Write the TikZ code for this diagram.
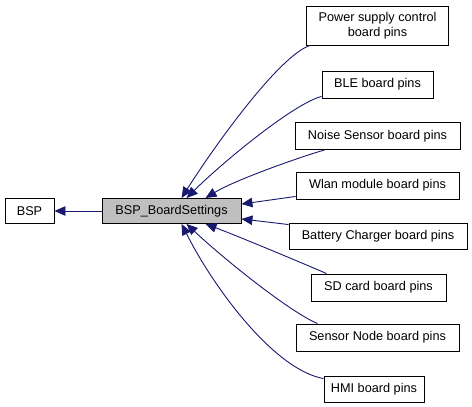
\documentclass[tikz,border=0pt]{standalone}
\usepackage{fontspec}
\setmainfont{Liberation Sans}
\usetikzlibrary{arrows.meta,calc}
\definecolor{edgeblue}{HTML}{191970}
\definecolor{boxgray}{HTML}{BFBFBF}
\begin{document}
\begin{tikzpicture}[x=1pt,y=-1pt,
  box/.style={draw=black,line width=0.9pt,fill=white,inner sep=0pt,align=center,
    font=\fontsize{12.7}{15}\selectfont},
  edge/.style={draw=edgeblue,line width=0.9pt,-{Triangle[length=11pt,width=9.5pt]}}]
\useasboundingbox (0,0) rectangle (472,407);
\node[box,minimum width=49pt,minimum height=25pt] (bsp) at (29.5,211) {BSP};
\node[box,fill=boxgray,minimum width=139pt,minimum height=25pt] (bs) at (171.5,211) {BSP\_BoardSettings};
\node[box,minimum width=142pt,minimum height=39pt] (pw) at (377.5,25.5) {Power supply control\\board pins};
\node[box,minimum width=111pt,minimum height=27pt] (ble) at (377.5,84.5) {BLE board pins};
\node[box,minimum width=165pt,minimum height=27pt] (ns) at (377.5,136) {Noise Sensor board pins};
\node[box,minimum width=163pt,minimum height=27pt] (wl) at (377.5,185.5) {Wlan module board pins};
\node[box,minimum width=178pt,minimum height=26pt] (bc) at (378,236) {Battery Charger board pins};
\node[box,minimum width=135pt,minimum height=27pt] (sd) at (378.5,287.5) {SD card board pins};
\node[box,minimum width=163pt,minimum height=27pt] (sn) at (377.5,337.5) {Sensor Node board pins};
\node[box,minimum width=100pt,minimum height=26pt] (hmi) at (374,389) {HMI board pins};
% edges
\draw[edge] (bs.west) -- (bsp.east);
\draw[edge] ($(pw.south west)+(4,0)$) .. controls (280,55) and (215,145) .. ($(bs.north west)+(80,0)$);
\draw[edge] ($(ble.south west)+(0,-2)$) .. controls (295,103) and (225,160) .. ($(bs.north west)+(85,0)$);
\draw[edge] ($(ns.south west)+(30,0)$) .. controls (300,157) and (235,180) .. ($(bs.north west)+(104,0)$);
\draw[edge] ($(wl.south west)+(0,-3)$) -- ($(bs.north east)+(0,6)$);
\draw[edge] ($(bc.north west)+(0,2)$) -- ($(bs.south east)+(0,-5)$);
\draw[edge] ($(sd.north west)+(16,0)$) .. controls (300,262) and (235,235) .. ($(bs.south west)+(104,0)$);
\draw[edge] ($(sn.north west)+(22,0)$) .. controls (290,312) and (225,260) .. ($(bs.south west)+(85,0)$);
\draw[edge] ($(hmi.north west)+(0,3)$) .. controls (275,370) and (215,290) .. ($(bs.south west)+(80,0)$);
\end{tikzpicture}
\end{document}
